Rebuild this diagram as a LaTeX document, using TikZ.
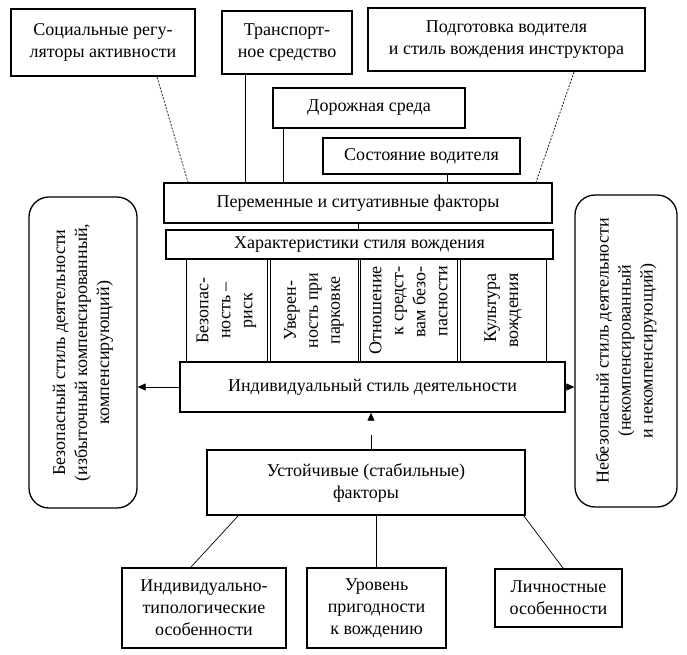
\documentclass[tikz,border=0pt]{standalone}
\usepackage{fontspec}
\setmainfont{Liberation Serif}
\usetikzlibrary{arrows.meta,calc}
\newcommand{\fs}{\fontsize{18}{22}\selectfont}
\begin{document}
\begin{tikzpicture}[x=1pt,y=-1pt,
  thickbox/.style={draw,line width=2pt,align=center,font=\fs,inner sep=0pt},
  thinbox/.style={draw,line width=1.1pt,align=center,font=\fs,inner sep=0pt},
  colbox/.style={draw,line width=0.8pt,inner sep=0pt},
  rbox/.style={draw,line width=1.3pt,rounded corners=20pt,inner sep=0pt},
  vtext/.style={rotate=90,align=center,font=\fs,inner sep=0pt},
  link/.style={line width=0.7pt},
  dlink/.style={line width=0.7pt,dash pattern=on 2pt off 1.5pt},
  arr/.style={line width=0.7pt,-{Triangle[length=8pt,width=7pt]}}]
\useasboundingbox (0,0) rectangle (687,654);

% top boxes
\node[thickbox,minimum width=184,minimum height=67] (soc) at (103,42.5) {Социальные регу-\\ляторы активности};
\node[thickbox,minimum width=130,minimum height=63] (trans) at (287,42.5) {Транспорт-\\ное средство};
\node[thickbox,minimum width=277,minimum height=63] (podg) at (506.5,39.5) {Подготовка водителя\\и стиль вождения инструктора};
\node[thickbox,minimum width=192,minimum height=40] (dor) at (369,108) {Дорожная среда};
\node[thinbox,minimum width=197,minimum height=36] (sost) at (421.5,156) {Состояние водителя};
\node[thinbox,line width=1.4pt,minimum width=388,minimum height=40] (per) at (358,203) {Переменные и ситуативные факторы};
\node[thinbox,line width=1.4pt,minimum width=387,minimum height=29] (char) at (359.5,244.5) {Характеристики стиля вождения};

% columns
\node[colbox,minimum width=81,minimum height=103] (c1) at (226.5,310.5) {};
\node[colbox,minimum width=88,minimum height=103] (c2) at (314,310.5) {};
\node[colbox,minimum width=97,minimum height=103] (c3) at (408.5,310.5) {};
\node[colbox,minimum width=86,minimum height=103] (c4) at (503,310.5) {};
\node[vtext] (t1) at (c1) {Безопас-\\ность --\\риск};
\node[vtext] (t2) at (c2) {Уверен-\\ность при\\парковке};
\node[vtext,align=right] (t3) at (c3) {Отношение\\к средст-\\вам безо-\\пасности};
\node[vtext,align=right] (t4) at (c4) {Культура\\вождения};

\node[thinbox,line width=1.4pt,minimum width=385,minimum height=50] (ind) at (372.5,387) {Индивидуальный стиль деятельности};

% side rounded boxes
\node[rbox,minimum width=108,minimum height=311] (lbox) at (83,352.5) {};
\node[vtext] (lt) at (lbox) {Безопасный стиль деятельности\\(избыточный компенсированный,\\компенсирующий)};
\node[rbox,minimum width=102,minimum height=312] (rbox) at (626,351) {};
\node[vtext] (rt) at (rbox) {Небезопасный стиль деятельности\\(некомпенсированный\\и некомпенсирующий)};

% bottom
\node[thinbox,line width=1.6pt,minimum width=318,minimum height=65] (ust) at (366,482.5) {Устойчивые (стабильные)\\факторы};
\node[thickbox,minimum width=164,minimum height=80] (b1) at (204,608) {Индивидуально-\\типологические\\особенности};
\node[thickbox,minimum width=139,minimum height=80] (b2) at (376.5,608) {Уровень\\пригодности\\к вождению};
\node[thickbox,minimum width=127,minimum height=58] (b3) at (558.5,598) {Личностные\\особенности};

% connectors top
\draw[dlink] ([xshift=54pt]soc.south) -- ([xshift=-170pt]per.north);
\draw[link] ([xshift=-42pt]trans.south) -- ([xshift=-42pt]trans.south |- per.north);
\draw[link] ([xshift=-86pt]dor.south) -- ([xshift=-86pt]dor.south |- per.north);
\draw[link] ([xshift=25.5pt]sost.south) -- ([xshift=25.5pt]sost.south |- per.north);
\draw[dlink] ([xshift=67.5pt]podg.south) -- ([xshift=178pt]per.north);
\draw[link] (per.south) -- (per.south |- char.north);

% arrows
\draw[arr] (ind.west) -- (ind.west -| lbox.east);
\draw[arr] (ind.east) -- (ind.east -| rbox.west);
\draw[line width=0.7pt,dash pattern=on 14pt off 40pt,-{Triangle[length=8pt,width=7pt]}] ([xshift=5pt]ust.north) -- ([xshift=5pt]ust.north |- ind.south);

% bottom connectors
\draw[link] ([xshift=32pt]ust.south west) -- ([xshift=-13pt]b1.north);
\draw[link] ([xshift=10pt]ust.south) -- ([xshift=10pt]ust.south |- b2.north);
\draw[link] ([xshift=-2pt]ust.south east) -- ([xshift=4.5pt]b3.north);
\end{tikzpicture}
\end{document}
